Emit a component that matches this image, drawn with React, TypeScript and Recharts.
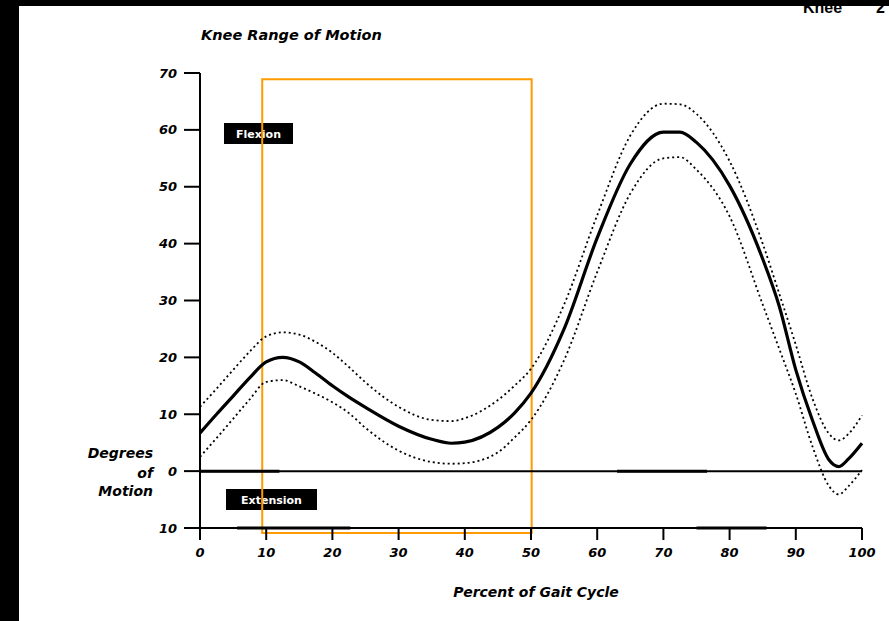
import React from 'react';
import { LineChart, Line, XAxis, YAxis, ReferenceLine, ReferenceArea } from 'recharts';

// Percent of gait cycle (x) and knee flexion angle (degrees)
const gaitPct = [0, 2.5, 5, 7.5, 10, 12.5, 15, 17.5, 20, 22.5, 25, 30, 35, 38, 40, 45, 47.5, 50, 55, 60, 65, 70, 72.5, 75, 80, 85, 87.5, 90, 92.5, 95, 96.5, 98, 100];
const meanDeg = [6.7, 10.0, 13.2, 16.4, 19.2, 20.0, 19.2, 17.2, 15.0, 13.0, 11.2, 7.9, 5.6, 4.9, 5.1, 7.7, 10.2, 13.7, 25.0, 41.0, 54.0, 59.6, 59.6, 57.8, 50.2, 37.3, 29.0, 17.8, 9.0, 2.0, 0.8, 2.2, 4.9];
const upperDeg = [11.3, 14.5, 17.8, 21.0, 23.7, 24.4, 24.0, 22.7, 20.8, 18.3, 15.6, 11.3, 9.0, 8.8, 9.3, 12.5, 15.0, 18.0, 29.3, 45.0, 59.0, 64.6, 64.5, 62.8, 54.5, 40.0, 31.2, 22.2, 12.8, 6.6, 5.4, 6.6, 9.8];
const lowerDeg = [2.5, 5.8, 9.2, 12.6, 15.7, 16.0, 14.9, 13.6, 12.1, 10.2, 7.6, 3.6, 1.6, 1.3, 1.4, 3.3, 5.9, 9.0, 19.5, 35.0, 48.8, 55.0, 55.2, 53.0, 44.8, 29.3, 21.5, 13.6, 4.4, -2.6, -4.1, -2.6, 0.2];

const xTicks = [0, 10, 20, 30, 40, 50, 60, 70, 80, 90, 100];
const yTicks = [-10, 0, 10, 20, 30, 40, 50, 60, 70];

// highlighted region (percent range and degree range)
const boxPct = [9.4, 50.1];
const boxDeg = [-10.9, 68.9];

// dark bars along the zero line and the baseline
const zeroBars = [[0, 12], [63, 76.6]];
const baseBars = [[5.6, 22.7], [75, 85.6]];

const data = gaitPct.map((p, i) => ({ pct: p, mean: meanDeg[i], upper: upperDeg[i], lower: lowerDeg[i] }));

const FONT = 'DejaVu Sans';
const tickStyle = { fill: '#000', fontSize: 13, fontWeight: 'bold', fontStyle: 'italic', fontFamily: FONT } as any;
const labelStyle = { fontFamily: FONT, fontWeight: 'bold', fontStyle: 'italic', fill: '#000' } as any;

export default function App() {
  return (
    <div style={{ position: 'fixed', left: 0, top: 0, width: 889, height: 621, background: '#000', overflow: 'hidden' }}>
      <div style={{ position: 'absolute', left: 19, top: 6, width: 870, height: 615, background: '#fff' }} />
      <svg width={889} height={621} style={{ position: 'absolute', left: 0, top: 0 }}>
        <text x={803} y={13} fontFamily="Liberation Sans" fontWeight="bold" fontSize={16} fill="#000">Knee</text>
        <text x={876} y={13} fontFamily="Liberation Sans" fontWeight="bold" fontSize={16} fill="#000">2</text>
        <text x={201} y={40} fontSize={14.5} {...labelStyle}>Knee Range of Motion</text>
        <text x={153} y={458} fontSize={14} textAnchor="end" {...labelStyle}>Degrees</text>
        <text x={153} y={478} fontSize={14} textAnchor="end" {...labelStyle}>of</text>
        <text x={153} y={496} fontSize={14} textAnchor="end" {...labelStyle}>Motion</text>
        <text x={536} y={597} fontSize={14} textAnchor="middle" {...labelStyle}>Percent of Gait Cycle</text>
        <rect x={224} y={123} width={69} height={21} fill="#000" />
        <text x={258.5} y={138} fontSize={11} textAnchor="middle" fontFamily={FONT} fontWeight="bold" fill="#fff">Flexion</text>
        <rect x={226} y={489} width={91} height={21} fill="#000" />
        <text x={271.5} y={504} fontSize={11} textAnchor="middle" fontFamily={FONT} fontWeight="bold" fill="#fff">Extension</text>
      </svg>
      <div style={{ position: 'absolute', left: 0, top: 0 }}>
        <LineChart width={889} height={621} data={data} margin={{ top: 73, right: 27, bottom: 33, left: 100 }}>
          <XAxis
            dataKey="pct"
            type="number"
            domain={[0, 100]}
            ticks={xTicks}
            height={60}
            tick={tickStyle}
            tickSize={12}
            tickMargin={8}
            axisLine={{ stroke: '#000', strokeWidth: 2 }}
            tickLine={{ stroke: '#000', strokeWidth: 2 }}
            interval={0}
          />
          <YAxis
            type="number"
            domain={[-10, 70]}
            ticks={yTicks}
            width={100}
            tick={tickStyle}
            tickSize={16}
            tickMargin={7}
            tickFormatter={(v: number) => String(Math.abs(v))}
            axisLine={{ stroke: '#000', strokeWidth: 2 }}
            tickLine={{ stroke: '#000', strokeWidth: 2 }}
            interval={0}
          />
          <ReferenceLine y={0} stroke="#000" strokeWidth={2} />
          {zeroBars.map((b, i) => (
            <ReferenceLine key={'z' + i} segment={[{ x: b[0], y: 0 }, { x: b[1], y: 0 }]} stroke="#000" strokeWidth={3} />
          ))}
          {baseBars.map((b, i) => (
            <ReferenceLine key={'b' + i} segment={[{ x: b[0], y: -10 }, { x: b[1], y: -10 }]} stroke="#000" strokeWidth={3} />
          ))}
          <Line dataKey="upper" type="monotone" stroke="#000" strokeWidth={1.8} strokeDasharray="2 3" dot={false} activeDot={false} isAnimationActive={false} />
          <Line dataKey="lower" type="monotone" stroke="#000" strokeWidth={1.8} strokeDasharray="2 3" dot={false} activeDot={false} isAnimationActive={false} />
          <Line dataKey="mean" type="monotone" stroke="#000" strokeWidth={3.2} dot={false} activeDot={false} isAnimationActive={false} />
          <ReferenceArea x1={boxPct[0]} x2={boxPct[1]} y1={boxDeg[0]} y2={boxDeg[1]} ifOverflow="visible" fill="none" fillOpacity={0} stroke="#ff9a00" strokeWidth={2} />
        </LineChart>
      </div>
      <div style={{ position: 'absolute', left: 0, top: 0, width: 889, height: 6, background: '#000' }} />
      <div style={{ position: 'absolute', left: 0, top: 0, width: 19, height: 621, background: '#000' }} />
    </div>
  );
}
